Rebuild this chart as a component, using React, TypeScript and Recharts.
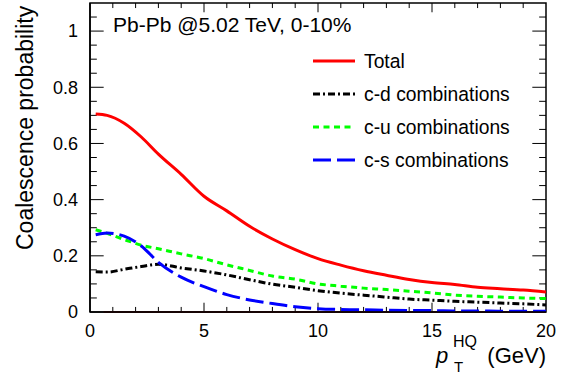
import { Legend, Line, LineChart, ReferenceArea, ReferenceLine, XAxis, YAxis } from 'recharts'

// pT (GeV) sampling points
const PT = [0.25, 0.75, 1.5, 2.25, 3, 4, 5, 6, 7, 8, 9, 10, 11, 12, 13, 14, 15, 16, 17, 18, 19, 20]

const TOTAL = [0.705, 0.7, 0.672, 0.623, 0.562, 0.49, 0.412, 0.36, 0.305, 0.26, 0.222, 0.19, 0.167, 0.147, 0.131, 0.116, 0.105, 0.098, 0.088, 0.083, 0.078, 0.071]
const CD = [0.143, 0.142, 0.152, 0.162, 0.17, 0.157, 0.146, 0.132, 0.115, 0.099, 0.088, 0.076, 0.067, 0.06, 0.053, 0.046, 0.042, 0.038, 0.035, 0.032, 0.029, 0.025]
const CU = [0.293, 0.28, 0.258, 0.238, 0.225, 0.207, 0.19, 0.168, 0.148, 0.128, 0.117, 0.1, 0.092, 0.085, 0.08, 0.074, 0.068, 0.06, 0.056, 0.053, 0.05, 0.048]
const CS = [0.275, 0.281, 0.27, 0.235, 0.177, 0.124, 0.09, 0.062, 0.043, 0.03, 0.019, 0.012, 0.009, 0.008, 0.006, 0.005, 0.005, 0.004, 0.004, 0.003, 0.003, 0.003]

const X_TICKS = [0, 5, 10, 15, 20]
const X_MINOR = [1, 2, 3, 4, 6, 7, 8, 9, 11, 12, 13, 14, 16, 17, 18, 19]
const Y_TICKS = [0, 0.2, 0.4, 0.6, 0.8, 1]
const Y_TICK_LABELS = ['0', '0.2', '0.4', '0.6', '0.8', '1']
const Y_MINOR = [0.05, 0.1, 0.15, 0.25, 0.3, 0.35, 0.45, 0.5, 0.55, 0.65, 0.7, 0.75, 0.85, 0.9, 0.95, 1.05]

const SERIES = [
  { key: 'total', name: 'Total', color: '#ff0000', dash: undefined },
  { key: 'cd', name: 'c-d combinations', color: '#000000', dash: '7 3 2 3' },
  { key: 'cu', name: 'c-u combinations', color: '#00ff00', dash: '6 4.5' },
  { key: 'cs', name: 'c-s combinations', color: '#0000ff', dash: '18 6' },
]

const data = PT.map((pt, i) => ({ pt, total: TOTAL[i], cd: CD[i], cu: CU[i], cs: CS[i] }))

const FONT = '"Liberation Sans", Arial, Helvetica, sans-serif'
const W = 576
const H = 377

// ROOT-like tick lengths, in data units (x: GeV, y: probability)
const XT_MAJOR = 0.033
const XT_MINOR = 0.018
const YT_MAJOR = 0.6
const YT_MINOR = 0.3

function LegendBox() {
  return (
    <div style={{ position: 'absolute', left: 0, top: 0, width: 0, height: 0 }}>
      <svg width={W} height={H} style={{ position: 'absolute', left: 0, top: 0, overflow: 'visible' }}>
        {SERIES.map((s, i) => {
          const cy = 61 + i * 33
          return (
            <g key={s.key}>
              <line x1={313} x2={355} y1={cy} y2={cy} stroke={s.color} strokeWidth={3} strokeDasharray={s.dash} />
              <text x={364} y={cy + 7} fontSize={19.3} fontFamily={FONT} fill="#000">
                {s.name}
              </text>
            </g>
          )
        })}
      </svg>
    </div>
  )
}

export default function App() {
  return (
    <div style={{ position: 'absolute', left: 0, top: 0, width: W, height: H, background: '#fff' }}>
      <LineChart width={W} height={H} data={data} margin={{ top: 3, right: 30, left: 0, bottom: 0 }}>
        <XAxis
          dataKey="pt"
          type="number"
          domain={[0, 20]}
          ticks={X_TICKS}
          allowDataOverflow
          height={65}
          tickSize={0}
          tickMargin={12}
          axisLine={{ stroke: '#000', strokeWidth: 1.5 }}
          tick={{ fill: '#000', fontSize: 18, fontFamily: FONT }}
        />
        <YAxis
          type="number"
          domain={[0, 1.1]}
          ticks={Y_TICKS}
          allowDataOverflow
          width={90}
          tickSize={0}
          tickMargin={12}
          tickFormatter={(v: number) => Y_TICK_LABELS[Y_TICKS.indexOf(v)] ?? String(v)}
          axisLine={{ stroke: '#000', strokeWidth: 1.5 }}
          tick={{ fill: '#000', fontSize: 18, fontFamily: FONT }}
        />
        <ReferenceArea x1={0} x2={20} y1={0} y2={1.1} fill="none" stroke="#000" strokeWidth={1.5} ifOverflow="visible" />

        {/* ticks on the four sides, pointing inward */}
        {X_TICKS.slice(1, -1).map((x) => (
          <ReferenceLine key={'xb' + x} segment={[{ x, y: 0 }, { x, y: XT_MAJOR }]} stroke="#000" strokeWidth={1} />
        ))}
        {X_TICKS.slice(1, -1).map((x) => (
          <ReferenceLine key={'xt' + x} segment={[{ x, y: 1.1 }, { x, y: 1.1 - XT_MAJOR }]} stroke="#000" strokeWidth={1} />
        ))}
        {X_MINOR.map((x) => (
          <ReferenceLine key={'xbm' + x} segment={[{ x, y: 0 }, { x, y: XT_MINOR }]} stroke="#000" strokeWidth={1} />
        ))}
        {X_MINOR.map((x) => (
          <ReferenceLine key={'xtm' + x} segment={[{ x, y: 1.1 }, { x, y: 1.1 - XT_MINOR }]} stroke="#000" strokeWidth={1} />
        ))}
        {Y_TICKS.slice(1).map((y) => (
          <ReferenceLine key={'yl' + y} segment={[{ x: 0, y }, { x: YT_MAJOR, y }]} stroke="#000" strokeWidth={1} />
        ))}
        {Y_TICKS.slice(1).map((y) => (
          <ReferenceLine key={'yr' + y} segment={[{ x: 20, y }, { x: 20 - YT_MAJOR, y }]} stroke="#000" strokeWidth={1} />
        ))}
        {Y_MINOR.map((y) => (
          <ReferenceLine key={'ylm' + y} segment={[{ x: 0, y }, { x: YT_MINOR, y }]} stroke="#000" strokeWidth={1} />
        ))}
        {Y_MINOR.map((y) => (
          <ReferenceLine key={'yrm' + y} segment={[{ x: 20, y }, { x: 20 - YT_MINOR, y }]} stroke="#000" strokeWidth={1} />
        ))}

        {/* dark red baseline along zero */}
        <ReferenceLine segment={[{ x: 0.6, y: 0 }, { x: 20, y: 0 }]} stroke="#5a1212" strokeWidth={2} />

        {SERIES.map((s) => (
          <Line
            key={s.key}
            dataKey={s.key}
            name={s.name}
            type="monotone"
            stroke={s.color}
            strokeWidth={3}
            strokeDasharray={s.dash}
            dot={false}
            activeDot={false}
            isAnimationActive={false}
          />
        ))}
        <Legend
          layout="vertical"
          align="center"
          verticalAlign="middle"
          wrapperStyle={{ position: 'absolute', left: 0, top: 0, width: 0, height: 0 }}
          content={() => <LegendBox />}
        />
      </LineChart>

      <svg
        width={W}
        height={H}
        style={{ position: 'absolute', left: 0, top: 0, pointerEvents: 'none' }}
        fontFamily={FONT}
      >
        <text x={113} y={32} fontSize={21} fill="#000">
          Pb-Pb @5.02 TeV, 0-10%
        </text>
        <text x={33} y={250} fontSize={23} fill="#000" transform="rotate(-90 33 250)">
          Coalescence probability
        </text>
        <text x={436} y={363} fontSize={22} fontStyle="italic" fill="#000">
          p
        </text>
        <text x={453} y={347} fontSize={16} fill="#000">
          HQ
        </text>
        <text x={454} y={372} fontSize={15} fill="#000">
          T
        </text>
        <text x={546} y={363} fontSize={22} textAnchor="end" fill="#000">
          (GeV)
        </text>
      </svg>
    </div>
  )
}
